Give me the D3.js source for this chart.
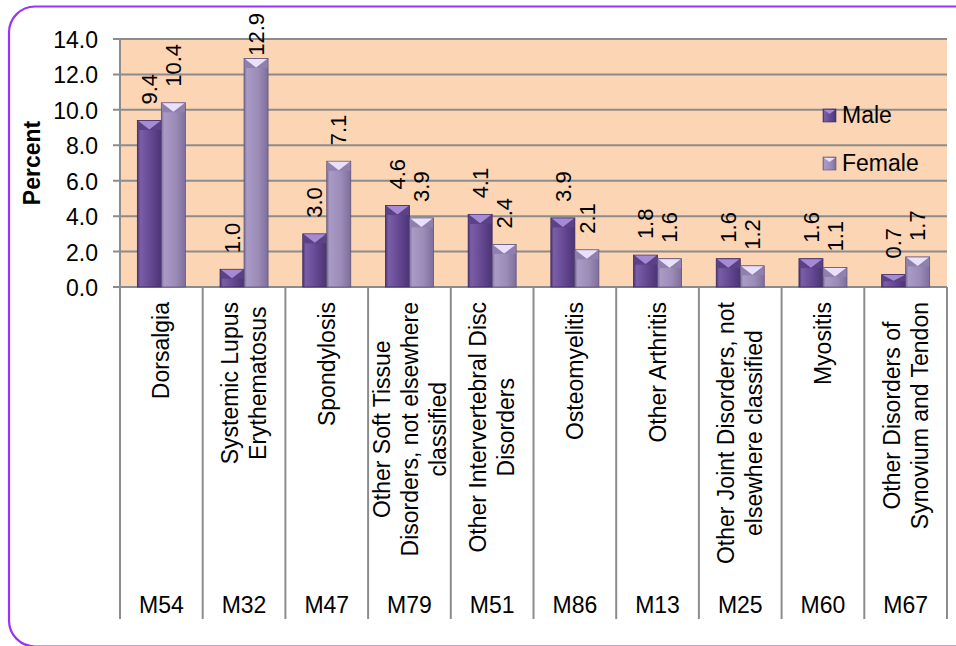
<!DOCTYPE html>
<html><head><meta charset="utf-8">
<script src="https://cdn.jsdelivr.net/npm/d3@7"></script>
<style>
html,body{margin:0;padding:0;background:#fff;}
svg{display:block;font-family:"Liberation Sans",Arial,sans-serif;}
</style></head>
<body>
<svg id="chart" width="956" height="646"></svg>
<script>
const categories = [
  ["Dorsalgia"],
  ["Systemic Lupus","Erythematosus"],
  ["Spondylosis"],
  ["Other Soft Tissue","Disorders, not elsewhere","classified"],
  ["Other Intervertebral Disc","Disorders"],
  ["Osteomyelitis"],
  ["Other Arthritis"],
  ["Other Joint Disorders, not","elsewhere classified"],
  ["Myositis"],
  ["Other Disorders of","Synovium and Tendon"]
];
const codes = ["M54","M32","M47","M79","M51","M86","M13","M25","M60","M67"];
const male   = [9.4, 1.0, 3.0, 4.6, 4.1, 3.9, 1.8, 1.6, 1.6, 0.7];
const female = [10.4, 12.9, 7.1, 3.9, 2.4, 2.1, 1.6, 1.2, 1.1, 1.7];
const seriesNames = ["Male","Female"];
const yTicks = [0, 2, 4, 6, 8, 10, 12, 14];

const svg = d3.select("#chart");
const L = 120, R = 947, T = 39, B = 287, LB = 619;

// chart border
svg.append("rect").attr("x",9).attr("y",6.5).attr("width",980).attr("height",640)
  .attr("rx",26).attr("ry",26).attr("fill","none").attr("stroke","#9b30ff").attr("stroke-width",2.2);

const x0 = d3.scaleBand().domain(codes).range([L, R]).padding(0);
const bw = x0.bandwidth();
const x1 = d3.scaleBand().domain(seriesNames).range([0, bw]).paddingInner(0).paddingOuter((bw/24 - 2)/2);
const y = d3.scaleLinear().domain([0, 14]).range([B, T]);

// plot background
svg.append("rect").attr("x",L).attr("y",T).attr("width",R-L).attr("height",B-T).attr("fill","#fcd5b5");

// gridlines
svg.append("g").selectAll("line").data(yTicks).join("line")
  .attr("x1",L-7).attr("x2",R).attr("y1",d=>y(d)).attr("y2",d=>y(d))
  .attr("stroke","#8c8c8c").attr("stroke-width",2);

// y tick labels
svg.append("g").selectAll("text").data(yTicks).join("text")
  .attr("x",98).attr("y",d=>y(d)+1).attr("dy","0.35em").attr("text-anchor","end")
  .attr("font-size",23).attr("fill","#000").text(d=>d.toFixed(1));

// y axis line
svg.append("line").attr("x1",L).attr("x2",L).attr("y1",T).attr("y2",LB)
  .attr("stroke","#8c8c8c").attr("stroke-width",2);
// category dividers
svg.append("g").selectAll("line").data(codes).join("line")
  .attr("x1",d=>x0(d)+bw).attr("x2",d=>x0(d)+bw).attr("y1",B).attr("y2",LB)
  .attr("stroke","#8c8c8c").attr("stroke-width",2);

// y title
svg.append("text").attr("transform",`translate(40,${(T+B)/2}) rotate(-90)`)
  .attr("text-anchor","middle").attr("font-size",23).attr("font-weight","bold").text("Percent");

// gradients
const defs = svg.append("defs");
const pal = {
  Male:   {l:"#7a5ea8", m:"#62468f", r:"#4b3474", bevel:"#5a4284", tri:"#a58bd6", edge:"#3b2960"},
  Female: {l:"#aa9bc6", m:"#9a8bb7", r:"#7d6e9c", bevel:"#8f80ad", tri:"#e9e0fb", edge:"#5f5378"}
};
seriesNames.forEach(s=>{
  const g = defs.append("linearGradient").attr("id","g"+s).attr("x1","0").attr("x2","1").attr("y1","0").attr("y2","0");
  g.append("stop").attr("offset","0").attr("stop-color",pal[s].r);
  g.append("stop").attr("offset","0.12").attr("stop-color",pal[s].l);
  g.append("stop").attr("offset","0.6").attr("stop-color",pal[s].m);
  g.append("stop").attr("offset","1").attr("stop-color",pal[s].r);
});

const rows = codes.map((c,i)=>({code:c, vals:[{s:"Male",v:male[i]},{s:"Female",v:female[i]}]}));
const bars = svg.append("g").selectAll("g").data(rows).join("g")
  .attr("transform",d=>`translate(${x0(d.code)},0)`);
bars.each(function(d){
  const g = d3.select(this);
  d.vals.forEach(b=>{
    const bx = x1(b.s), w = x1.bandwidth(), yt = y(b.v), h = B - yt;
    const p = pal[b.s];
    g.append("rect").attr("x",bx).attr("y",yt).attr("width",w).attr("height",h)
      .attr("fill",`url(#g${b.s})`).attr("stroke",p.edge).attr("stroke-width",0.8);
    const bh = Math.min(9, h/2);
    g.append("rect").attr("x",bx+0.5).attr("y",yt+0.5).attr("width",w-1).attr("height",bh)
      .attr("fill",p.bevel);
    g.append("path").attr("d",`M${bx+1},${yt+0.5} L${bx+w-1},${yt+0.5} L${bx+w/2},${yt+bh} Z`)
      .attr("fill",p.tri);
  });
});

// data labels
bars.each(function(d){
  const g = d3.select(this);
  d.vals.forEach(b=>{
    const cx = x1(b.s) + x1.bandwidth()/2;
    const t = g.append("text").attr("font-size",22).attr("text-anchor","start").attr("dy","0.35em")
      .text(b.v.toFixed(1));
    const len = t.node().getComputedTextLength();
    const start = Math.max(y(b.v) - 16, 13 + len);
    t.attr("transform",`translate(${cx},${start}) rotate(-90)`);
  });
});

// category labels
const lh = 28;
rows.forEach((r,i)=>{
  const lines = categories[i];
  const g = svg.append("g");
  const texts = lines.map(l=>g.append("text").attr("font-size",23).attr("text-anchor","middle").attr("dy","0.35em").text(l));
  const maxLen = d3.max(texts, t=>t.node().getComputedTextLength());
  const cy = 302 + maxLen/2;
  const cx = x0(r.code) + bw/2;
  texts.forEach((t,j)=>{
    const off = (j - (lines.length-1)/2) * lh;
    t.attr("transform",`translate(${cx+off},${cy}) rotate(-90)`);
  });
  svg.append("text").attr("x",cx).attr("y",613).attr("text-anchor","middle").attr("font-size",23).text(r.code);
});

// legend
const leg = svg.append("g");
seriesNames.forEach((s,i)=>{
  const yy = 109 + i*48;
  const p = pal[s];
  leg.append("rect").attr("x",823).attr("y",yy).attr("width",13).attr("height",13)
    .attr("fill",`url(#g${s})`).attr("stroke",p.edge).attr("stroke-width",0.6);
  leg.append("path").attr("d",`M824,${yy+1} L835,${yy+1} L829.5,${yy+5} Z`).attr("fill",p.tri);
  leg.append("text").attr("x",842).attr("y",yy+14).attr("font-size",23).text(s);
});
</script>
</body></html>
